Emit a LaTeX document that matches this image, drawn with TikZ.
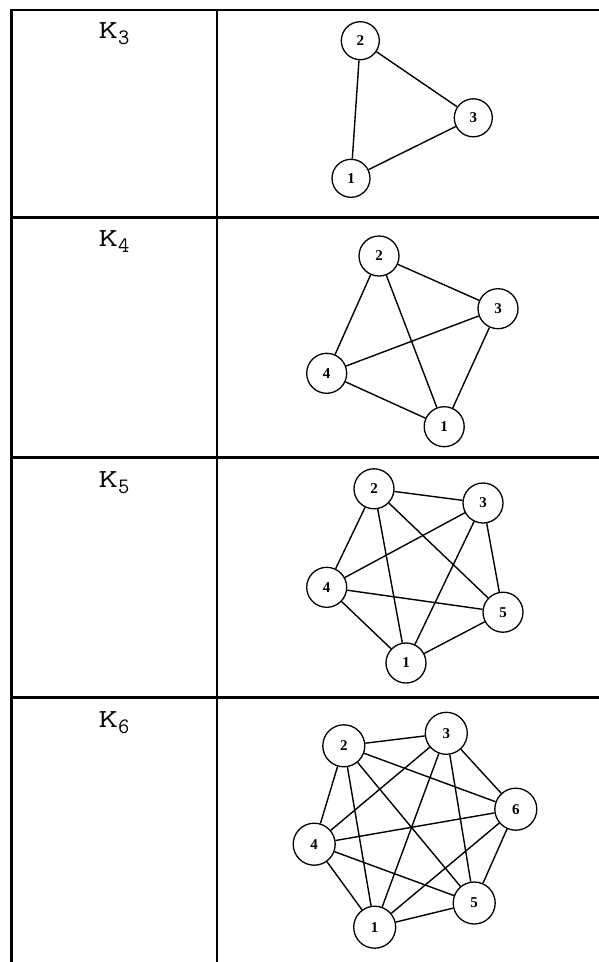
\documentclass[tikz,border=0pt]{standalone}
\usepackage{fontspec}
\newfontfamily\numfont{Liberation Serif}
\begin{document}
\begin{tikzpicture}[x=1pt,y=-1pt,
  rule/.style={line width=2.5pt, line cap=rect},
  vtx/.style={circle, draw, line width=1.3pt, inner sep=0pt, font=\numfont\bfseries\fontsize{15}{15}\selectfont},
  vA/.style={vtx, minimum size=38pt},
  vB/.style={vtx, minimum size=40pt},
  vC/.style={vtx, minimum size=42pt},
  edge/.style={line width=1.4pt},
  klabel/.style={anchor=base, inner sep=0pt, font=\ttfamily\fontsize{26}{26}\selectfont}]
\useasboundingbox (0,0) rectangle (599,962);
\fill[white] (0,0) rectangle (599,962);
% table rules
\draw[rule] (11.5,10) -- (599,10);
\draw[rule] (11.5,217.7) -- (599,217.7);
\draw[rule] (11.5,457.7) -- (599,457.7);
\draw[rule] (11.5,697.7) -- (599,697.7);
\draw[line width=2.5pt] (11.5,8.75) -- (11.5,962);
\draw[line width=2.5pt] (217,8.75) -- (217,962);
% labels
\newcommand{\kl}[1]{\scalebox{1.45}[1]{K}\raisebox{-6pt}{\fontsize{22}{22}\selectfont #1}}
\node[klabel] (l3) at (114,38.3) {\kl{3}};
\node[klabel] (l4) at (114,246) {\kl{4}};
\node[klabel] (l5) at (114,487.3) {\kl{5}};
\node[klabel] (l6) at (114,727.7) {\kl{6}};
% K3
\node[vA] (a1) at (351,178.3) {1};
\node[vA] (a2) at (360.3,40.7) {2};
\node[vA] (a3) at (473.3,117.8) {3};
\foreach \i/\j in {1/2,2/3,3/1} \draw[edge] (a\i) -- (a\j);
% K4
\node[vB] (b1) at (444.2,426.7) {1};
\node[vB] (b2) at (379,256) {2};
\node[vB] (b3) at (498,308.7) {3};
\node[vB] (b4) at (326.7,373.3) {4};
\foreach \i/\j in {1/2,1/3,1/4,2/3,2/4,3/4} \draw[edge] (b\i) -- (b\j);
% K5
\node[vB] (c1) at (406,663) {1};
\node[vB] (c2) at (374,488.8) {2};
\node[vB] (c3) at (483,503) {3};
\node[vB] (c4) at (326.7,587.3) {4};
\node[vB] (c5) at (503,612.2) {5};
\foreach \i/\j in {1/2,1/3,1/4,1/5,2/3,2/4,2/5,3/4,3/5,4/5} \draw[edge] (c\i) -- (c\j);
% K6
\node[vC] (d1) at (374.7,927.2) {1};
\node[vC] (d2) at (343.8,745.8) {2};
\node[vC] (d3) at (446.3,733.3) {3};
\node[vC] (d4) at (314.2,844.2) {4};
\node[vC] (d5) at (474.2,903) {5};
\node[vC] (d6) at (515.8,809.2) {6};
\foreach \i/\j in {1/2,1/3,1/4,1/5,1/6,2/3,2/4,2/5,2/6,3/4,3/5,3/6,4/5,4/6,5/6} \draw[edge] (d\i) -- (d\j);
\end{tikzpicture}
\end{document}
